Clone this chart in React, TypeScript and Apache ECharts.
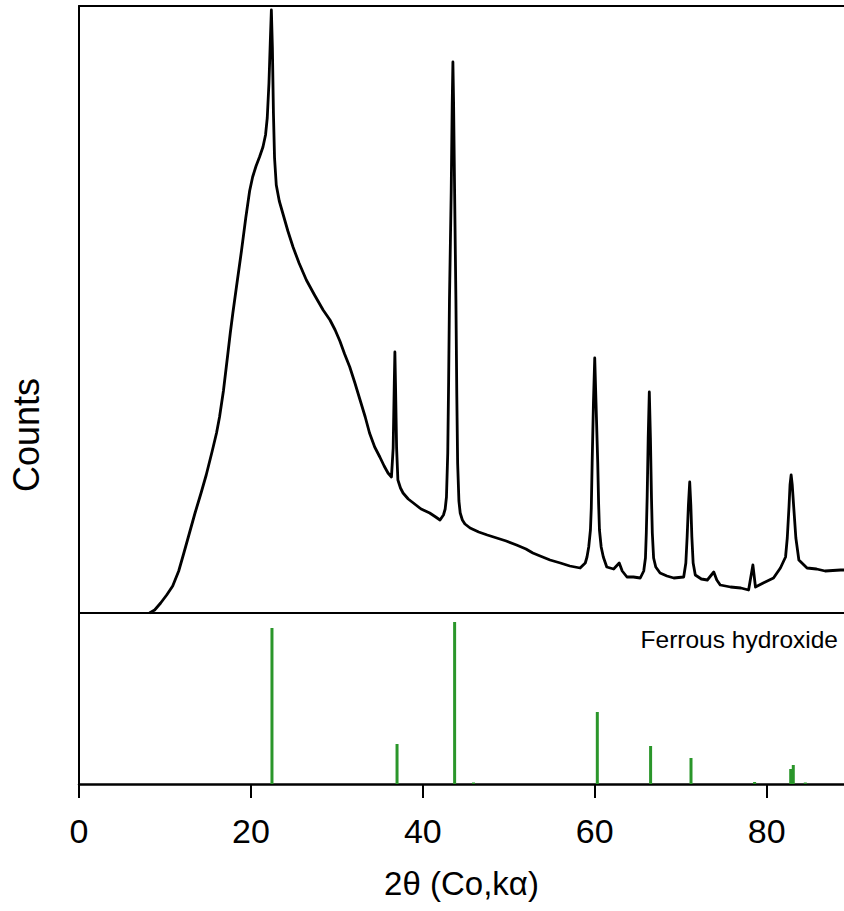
import React, { useEffect, useRef } from "react";
import * as echarts from "echarts";

// 2θ positions (degrees) of the measured pattern
const twoTheta = [
  // rising amorphous hump
  8.2, 8.8, 9.5, 10.2, 10.9, 11.6, 12.2, 12.85, 13.5, 14.2,
  14.8, 15.5, 16.0, 16.35, 16.8, 17.3, 17.6, 17.9, 18.3, 18.9,
  19.4, 19.85, 20.2, 20.6, 21.0, 21.4, 21.7, 21.9, 22.1, 22.25,
  // 22.4 peak and decline
  22.38, 22.5, 22.62, 22.75, 22.95, 23.3, 23.7, 24.3, 24.9, 25.6,
  26.45, 27.4, 28.4, 29.2, 29.8, 30.35, 30.9, 31.5, 32.1, 32.7,
  33.3, 33.8, 34.4, 35.0, 35.5, 35.95,
  // 36.75 peak
  36.35, 36.55, 36.68, 36.75, 36.82, 36.95, 37.1, 37.4, 37.7, 38.3,
  38.9, 39.8, 40.8, 41.5, 42.0, 42.4,
  // 43.5 peak
  42.6, 42.75, 42.9, 43.0, 43.1, 43.3, 43.42, 43.5, 43.58, 43.7,
  43.85, 43.95, 44.05, 44.2, 44.35, 44.6, 44.9,
  // background
  45.5, 46.5, 47.5, 48.6, 49.7, 50.9, 52.0, 52.8, 53.65, 54.8,
  56.0, 57.1, 58.3, 58.9,
  // 60.0 peak
  59.1, 59.3, 59.5, 59.6, 59.7, 59.85, 60.0, 60.15, 60.35, 60.45,
  60.55, 60.75, 61.0, 61.4, 62.2, 62.85, 63.2, 63.75, 64.5, 65.3,
  // 66.35 peak
  65.7, 65.9, 66.0, 66.1, 66.22, 66.35, 66.48, 66.6, 66.7, 66.85,
  67.1, 67.6, 68.4, 69.2, 70.35,
  // 71.05 peak
  70.6, 70.75, 70.9, 71.05, 71.18, 71.3, 71.45, 71.7,
  72.4, 73.1, 73.85, 74.2, 74.6, 75.8, 77.0, 77.9, 78.4, 78.7,
  79.6, 80.8, 81.6, 82.2,
  // 82.85 peak
  82.4, 82.6, 82.72, 82.85, 82.98, 83.15, 83.4, 83.75, 84.7, 85.8,
  86.8, 88.6, 89.0,
];
// counts (arbitrary units)
const counts = [
  0, 3, 10, 18, 27, 42, 60, 80, 100, 120,
  138, 162, 180, 196, 222, 258, 280, 300, 325, 362,
  395, 422, 436, 447, 456, 466, 478, 495, 530, 570,
  603, 565, 500, 455, 428, 412, 400, 382, 366, 350,
  333, 318, 303, 293, 283, 272, 259, 246, 230, 213,
  196, 180, 166, 156, 147, 140,
  136, 165, 230, 261, 230, 165, 133, 125, 120, 114,
  110, 104, 100, 96, 93, 98,
  104, 116, 160, 230, 313, 420, 510, 551, 510, 420,
  313, 220, 150, 112, 100, 93, 89,
  85, 81, 78, 75, 72, 68, 64, 60, 57, 53,
  50, 47, 45, 50,
  56, 66, 83, 105, 150, 210, 255, 210, 150, 110,
  83, 66, 56, 46, 44, 50, 42, 36, 36, 35,
  42, 55, 80, 116, 175, 221, 175, 116, 80, 55,
  46, 40, 37, 35, 36,
  50, 76, 108, 131, 108, 76, 50, 38,
  34, 33, 41, 33, 28, 26, 25, 23, 48, 26,
  30, 35, 45, 56,
  75, 106, 128, 138, 128, 106, 75, 53, 45, 44,
  42, 43, 43,
];

// reference pattern: Ferrous hydroxide
const stickPos = [22.45, 37.0, 43.7, 45.9, 60.3, 66.5, 71.2, 78.6, 82.8, 83.1, 84.5];
const stickIntensity = [156, 40, 162, 1.5, 72, 38, 26, 2, 15, 19, 1.5];

const xTickValues = [0, 20, 40, 60, 80];
const xName = "2θ (Co,kα)";
const yName = "Counts";
const refLabel = "Ferrous hydroxide";

const FONT = "'Liberation Sans', Arial, Helvetica, sans-serif";

export default function App() {
  const ref = useRef<HTMLDivElement>(null);
  useEffect(() => {
    if (!ref.current) return;
    const chart = echarts.init(ref.current, undefined, { renderer: "svg" });
    const lineData = twoTheta.map((x, i) => [x, counts[i]]);
    const stickData = stickPos.map((x, i) => [x, stickIntensity[i]]);
    const axisLine = { show: true, lineStyle: { color: "#000", width: 2 } };
    const hidden = {
      axisTick: { show: false },
      axisLabel: { show: false },
      splitLine: { show: false },
    };
    chart.setOption({
      animation: false,
      backgroundColor: "#fff",
      grid: [
        { left: 79, top: 6, width: 765, height: 607 },
        { left: 79, top: 613, width: 765, height: 171 },
      ],
      xAxis: [
        { gridIndex: 0, type: "value", min: 0, max: 89, position: "bottom", axisLine, ...hidden },
        { gridIndex: 0, type: "value", min: 0, max: 89, position: "top", axisLine, ...hidden },
        {
          gridIndex: 1,
          type: "value",
          min: 0,
          max: 89,
          position: "bottom",
          offset: 5,
          axisLine: { show: true, lineStyle: { color: "#000", width: 2.5 } },
          axisTick: {
            show: true,
            length: 14,
            inside: false,
            lineStyle: { color: "#000", width: 2 },
            customValues: xTickValues,
          },
          axisLabel: {
            show: true,
            customValues: xTickValues,
            fontSize: 34,
            color: "#000",
            fontFamily: FONT,
            margin: 25,
          },
          splitLine: { show: false },
          name: xName,
          nameLocation: "middle",
          nameGap: 78,
          nameTextStyle: { fontSize: 33, color: "#000", fontFamily: FONT },
        },
      ],
      yAxis: [
        { gridIndex: 0, type: "value", min: 0, max: 607, axisLine, ...hidden },
        { gridIndex: 1, type: "value", min: 0, max: 171, axisLine, ...hidden },
      ],
      series: [
        {
          type: "line",
          xAxisIndex: 0,
          yAxisIndex: 0,
          data: lineData,
          showSymbol: false,
          symbol: "none",
          lineStyle: { color: "#000", width: 2.8, join: "round" },
          clip: true,
        },
        {
          type: "bar",
          xAxisIndex: 2,
          yAxisIndex: 1,
          data: stickData,
          barWidth: 3,
          itemStyle: { color: "#2a962a" },
        },
      ],
      graphic: [
        {
          type: "text",
          x: 26,
          y: 435,
          rotation: Math.PI / 2,
          style: {
            text: yName,
            fontSize: 36,
            fontFamily: FONT,
            fill: "#000",
            align: "center",
            verticalAlign: "middle",
          },
        },
        {
          type: "text",
          x: 838,
          y: 639,
          style: {
            text: refLabel,
            fontSize: 24.5,
            fontFamily: FONT,
            fill: "#000",
            align: "right",
            verticalAlign: "middle",
          },
        },
      ],
    });
    return () => chart.dispose();
  }, []);
  return (
    <div
      ref={ref}
      style={{ position: "fixed", left: 0, top: 0, width: 844, height: 911, background: "#fff" }}
    />
  );
}
